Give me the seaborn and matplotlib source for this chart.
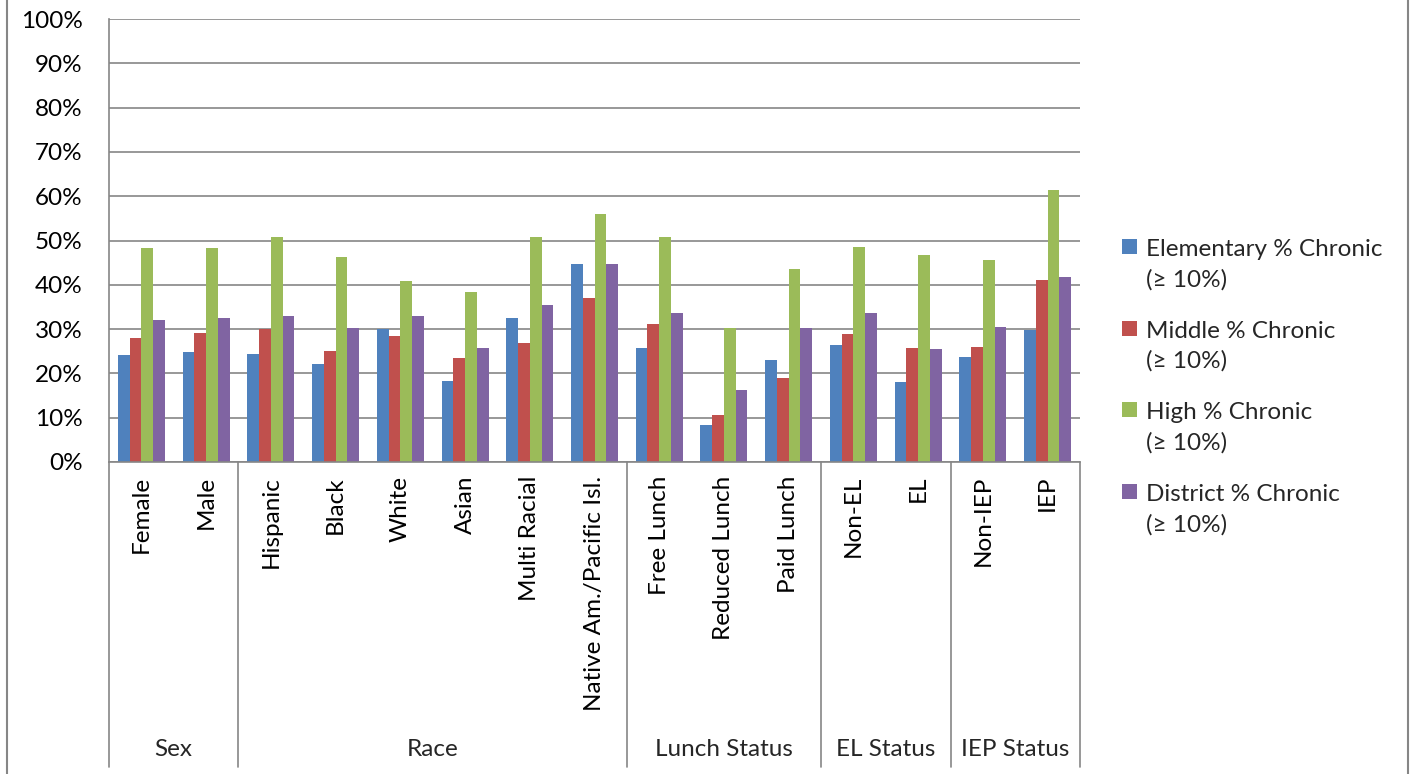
import numpy as np
import pandas as pd
import matplotlib
matplotlib.use('agg')
import matplotlib.pyplot as plt
import seaborn as sns
from matplotlib.lines import Line2D
from matplotlib.patches import Rectangle
from matplotlib.legend_handler import HandlerPatch
from matplotlib.ticker import PercentFormatter

# subgroup categories (x axis), grouped in the second label row
categories = ["Female", "Male", "Hispanic", "Black", "White", "Asian",
              "Multi Racial", "Native Am./Pacific Isl.", "Free Lunch",
              "Reduced Lunch", "Paid Lunch", "Non-EL", "EL", "Non-IEP", "IEP"]
groups = ["Sex", "Race", "Lunch Status", "EL Status", "IEP Status"]
group_sizes = [2, 6, 3, 2, 2]

series = ["Elementary % Chronic\n(\u2265 10%)", "Middle % Chronic\n(\u2265 10%)",
          "High % Chronic\n(\u2265 10%)", "District % Chronic\n(\u2265 10%)"]

# percent chronically absent
elementary = [24.2, 24.9, 24.4, 22.1, 30.0, 18.3, 32.4, 44.6, 25.7, 8.3, 23.1, 26.3, 18.0, 23.7, 29.7]
middle = [28.1, 29.2, 30.0, 25.1, 28.5, 23.4, 26.9, 37.1, 31.1, 10.6, 18.9, 29.0, 25.8, 26.0, 41.1]
high = [48.4, 48.2, 50.9, 46.3, 40.8, 38.3, 50.9, 55.9, 50.7, 30.2, 43.5, 48.5, 46.8, 45.7, 61.4]
district = [32.1, 32.4, 33.0, 30.3, 33.0, 25.8, 35.5, 44.8, 33.6, 16.3, 30.3, 33.6, 25.5, 30.5, 41.7]

colors = ["#4F81BD", "#C0504D", "#9BBB59", "#8064A2"]
GRAY = "#868686"
FS = 17.5


def top_square(legend, orig_handle, xdescent, ydescent, width, height, fontsize):
	# square marker lined up with the first line of a two-line label
	s = 0.62 * fontsize
	return Rectangle((-xdescent + (width - s) / 2,
					  -ydescent + (height - s) / 2 + 0.74 * fontsize), s, s)


def main(output):
	df = pd.DataFrame({
		"Subgroup": categories * 4,
		"Level": np.repeat(series, len(categories)),
		"Pct": np.array(elementary + middle + high + district) / 100.0,
	})

	sns.set_theme(style="white")
	plt.rcParams['font.family'] = ['Lato', 'DejaVu Sans']

	fig = plt.figure(figsize=(14.11, 7.74), dpi=100)
	ax = fig.add_axes([109 / 1411, 312 / 774, 971 / 1411, 443 / 774])

	sns.barplot(data=df, x="Subgroup", y="Pct", hue="Level", order=categories,
				hue_order=series, palette=colors, saturation=1, width=0.727,
				linewidth=0, errorbar=None, legend=False, ax=ax)

	ax.set_ylim(0, 1)
	ax.set_yticks(np.arange(0, 1.01, 0.1))
	ax.yaxis.set_major_formatter(PercentFormatter(1.0, decimals=0))
	ax.yaxis.grid(True, color=GRAY, linewidth=1.2)
	ax.set_axisbelow(True)
	ax.set_xlabel("")
	ax.set_ylabel("")
	for side in ["top", "right"]:
		ax.spines[side].set_visible(False)
	for side in ["left", "bottom"]:
		ax.spines[side].set_color(GRAY)
		ax.spines[side].set_linewidth(1.2)
	ax.tick_params(axis='y', length=0, pad=19, labelsize=FS, labelcolor="black")
	ax.tick_params(axis='x', length=0, pad=10, labelsize=FS, labelcolor="black")
	plt.setp(ax.get_xticklabels(), rotation=90, va="top", ha="center")

	# second row of the category axis: group separators and names
	trans = ax.get_xaxis_transform()
	bounds = np.concatenate([[0], np.cumsum(group_sizes)]) - 0.5
	for b in bounds:
		ax.add_line(Line2D([b, b], [0, -0.688], transform=trans, color=GRAY,
						   linewidth=1.2, clip_on=False))
	for g, lo, hi in zip(groups, bounds[:-1], bounds[1:]):
		ax.text((lo + hi) / 2, -0.650, g, transform=trans, ha="center",
				va="center", fontsize=FS)

	handles = [Rectangle((0, 0), 1, 1, facecolor=c, linewidth=0) for c in colors]
	leg = fig.legend(handles, series, loc="upper left",
					 bbox_to_anchor=(1122 / 1411, 1 - 239 / 774),
					 frameon=False, fontsize=FS, handlelength=0.62,
					 handleheight=0.62, handletextpad=0.35, labelspacing=1.25,
					 borderaxespad=0, borderpad=0,
					 handler_map={Rectangle: HandlerPatch(patch_func=top_square)})
	for t in leg.get_texts():
		t.set_linespacing(1.5)

	# chart frame
	for xf in [7 / 1411, 1408 / 1411]:
		fig.add_artist(Line2D([xf, xf], [0, 1], transform=fig.transFigure,
							  color=GRAY, linewidth=1.5))

	fig.savefig(output, dpi=100)


if __name__ == "__main__":
	main("out.png")
